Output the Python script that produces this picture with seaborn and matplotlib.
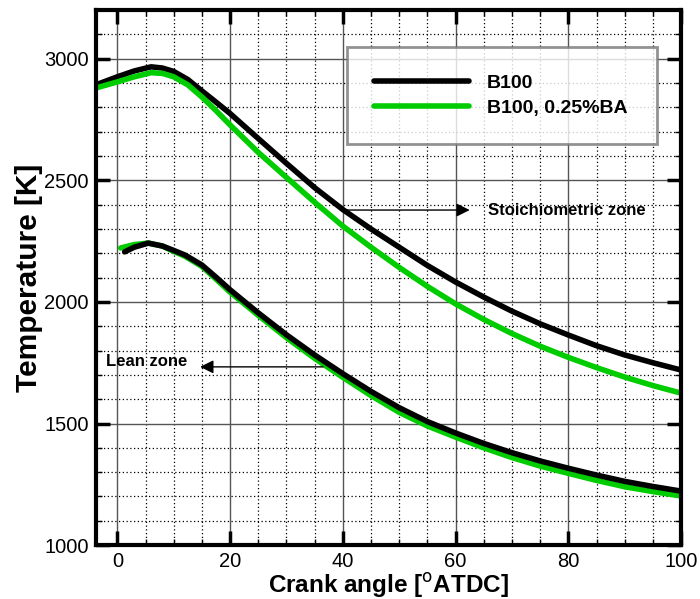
import numpy as np
import pandas as pd
import matplotlib.pyplot as plt
import seaborn as sns
from matplotlib.ticker import MultipleLocator

# Stoichiometric zone (upper pair of curves)
stoich_angle = [-3.8, 0, 3, 6, 8, 10, 12.5, 15, 17.5, 20, 25, 30, 35, 40, 45, 50, 55, 60, 65, 70, 75, 80, 85, 90, 95, 100]
stoich_b100 = [2893, 2926, 2950, 2967, 2962, 2948, 2915, 2868, 2822, 2775, 2672, 2570, 2470, 2380, 2300,
               2225, 2150, 2082, 2020, 1962, 1910, 1864, 1820, 1782, 1750, 1720]
stoich_ba = [2880, 2905, 2926, 2943, 2940, 2926, 2893, 2843, 2787, 2728, 2615, 2512, 2410, 2312, 2225,
             2142, 2064, 1992, 1928, 1870, 1818, 1772, 1730, 1691, 1656, 1625]

# Lean zone (lower pair of curves)
lean_angle_b100 = [1.3, 3, 5.5, 8, 10, 12, 15, 17.5, 20, 25, 30, 35, 40, 45, 50, 55, 60, 65, 70, 75, 80, 85, 90, 95, 100]
lean_b100 = [2206, 2225, 2242, 2230, 2212, 2193, 2152, 2102, 2050, 1955, 1865, 1782, 1705, 1632, 1565,
             1508, 1461, 1418, 1380, 1346, 1316, 1288, 1262, 1241, 1222]
lean_angle_ba = [0.6, 3, 5.5, 8, 10, 12, 15, 17.5, 20, 25, 30, 35, 40, 45, 50, 55, 60, 65, 70, 75, 80, 85, 90, 95, 100]
lean_ba = [2222, 2236, 2242, 2230, 2208, 2188, 2146, 2094, 2040, 1945, 1853, 1768, 1690, 1615, 1546,
           1490, 1444, 1400, 1360, 1325, 1295, 1266, 1240, 1220, 1202]

labels = ['B100', 'B100, 0.25%BA']
colors = {'B100': '#000000', 'B100, 0.25%BA': '#00CC00'}

sns.set_style('ticks')
plt.rcParams['font.family'] = ['Liberation Sans', 'DejaVu Sans']
plt.rcParams.update({'text.color': 'black', 'axes.labelcolor': 'black', 'axes.edgecolor': 'black',
                     'xtick.color': 'black', 'ytick.color': 'black'})

fig = plt.figure(figsize=(7, 5.99), dpi=100)
ax = fig.add_axes([0.137, 0.090, 0.836, 0.893])

# Grid first so the curves sit on top
ax.xaxis.set_major_locator(MultipleLocator(20))
ax.xaxis.set_minor_locator(MultipleLocator(5))
ax.yaxis.set_major_locator(MultipleLocator(500))
ax.yaxis.set_minor_locator(MultipleLocator(100))
ax.grid(which='major', color='#555555', linewidth=1.0, linestyle='-')
ax.grid(which='minor', color='#000000', linewidth=0.9, linestyle=(0, (1, 2)))
ax.set_axisbelow(True)

upper = pd.DataFrame({'angle': stoich_angle * 2,
                      'T': stoich_b100 + stoich_ba,
                      'fuel': [labels[0]] * len(stoich_angle) + [labels[1]] * len(stoich_angle)})
sns.lineplot(data=upper, x='angle', y='T', hue='fuel', palette=colors, linewidth=4,
             sort=False, ax=ax, legend=True)
# lower curves: green drawn first, black on top where they overlap
sns.lineplot(x=lean_angle_ba, y=lean_ba, color=colors[labels[1]], linewidth=4, ax=ax)
sns.lineplot(x=lean_angle_b100, y=lean_b100, color=colors[labels[0]], linewidth=4, ax=ax)
for ln in ax.get_lines():
    ln.set_solid_joinstyle('round')

ax.set_xlim(-3.8, 100)
ax.set_ylim(1000, 3200)

for side in ax.spines.values():
    side.set_linewidth(3)
    side.set_visible(True)
ax.tick_params(which='major', direction='in', length=10, width=2.5, top=True, right=True,
               labelsize=14.5, pad=5)
ax.tick_params(which='minor', direction='in', length=4, width=1, top=True, right=True)

ax.set_xlabel(r'Crank angle [$^{\mathrm{o}}$ATDC]', fontsize=17.5, fontweight='bold', labelpad=0)
ax.set_ylabel('Temperature [K]', fontsize=21.5, fontweight='bold', labelpad=1)

leg = ax.legend(loc='center', bbox_to_anchor=(0.429, 0.744, 0.53, 0.192), mode='expand',
                frameon=True, fancybox=False, edgecolor='#777777', handlelength=4.9,
                handletextpad=0.9, borderaxespad=0, borderpad=1.4, labelspacing=0.4,
                prop={'weight': 'bold', 'size': 14})
leg.get_frame().set_linewidth(2)
for line in leg.get_lines():
    line.set_linewidth(4)
    line.set_solid_capstyle('round')

# Zone annotations
ax.annotate('', xy=(63, 2378), xytext=(40, 2378),
            arrowprops=dict(arrowstyle='-|>', color='black', lw=1, mutation_scale=20))
ax.text(65.7, 2378, 'Stoichiometric zone', fontsize=12, fontweight='bold', va='center', ha='left')
ax.annotate('', xy=(14.2, 1733), xytext=(37, 1733),
            arrowprops=dict(arrowstyle='-|>', color='black', lw=1, mutation_scale=20))
ax.text(-2, 1755, 'Lean zone', fontsize=12, fontweight='bold', va='center', ha='left')

plt.savefig('out.png', dpi=100)
plt.close()
